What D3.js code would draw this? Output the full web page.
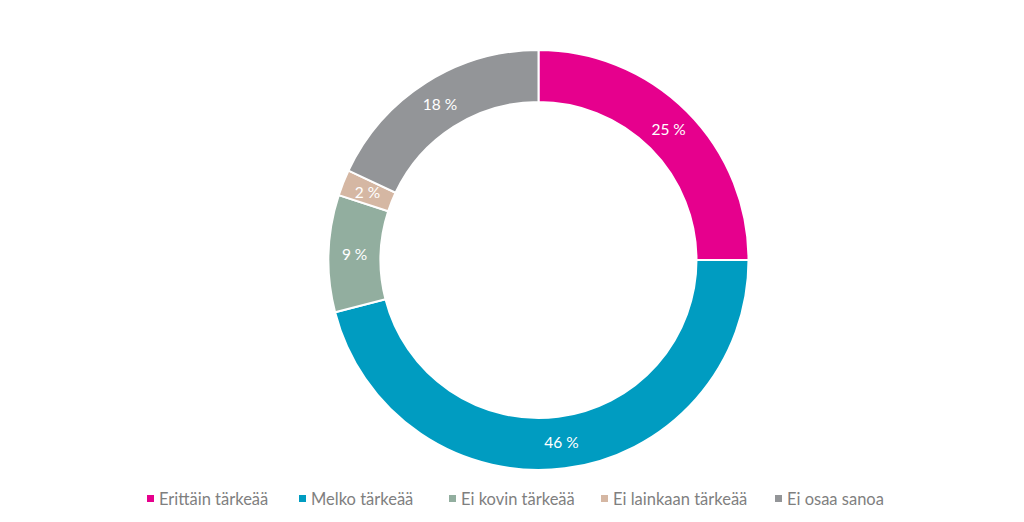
<!DOCTYPE html>
<html>
<head>
<meta charset="utf-8">
<script src="https://cdn.jsdelivr.net/npm/d3@7"></script>
<style>
  body { margin: 0; background: #fff; }
  svg { display: block; font-family: Lato, "Open Sans", sans-serif; }
</style>
</head>
<body>
<svg id="chart" width="1024" height="522"></svg>
<script>
// Data
var categories = ["Erittäin tärkeää", "Melko tärkeää", "Ei kovin tärkeää", "Ei lainkaan tärkeää", "Ei osaa sanoa"];
var values = [25, 46, 9, 2, 18];
var colors = ["#E6008D", "#009CC1", "#92AE9F", "#D5B7A3", "#939598"];

var cx = 538.5, cy = 260, outerR = 210, innerR = 158;

var svg = d3.select("#chart");

var slices = categories.map(function(c, i) { return { name: c, value: values[i], color: colors[i] }; });

var pie = d3.pie().sort(null).value(function(d) { return d.value; });
var arc = d3.arc().innerRadius(innerR).outerRadius(outerR);

var g = svg.append("g").attr("transform", "translate(" + cx + "," + cy + ")");

g.selectAll("path")
  .data(pie(slices))
  .enter()
  .append("path")
    .attr("d", arc)
    .style("fill", function(d) { return d.data.color; })
    .style("stroke", "#fff")
    .style("stroke-width", 2);

g.selectAll("text")
  .data(pie(slices))
  .enter()
  .append("text")
    .attr("transform", function(d) { return "translate(" + arc.centroid(d) + ")"; })
    .attr("text-anchor", "middle")
    .attr("dy", "0.35em")
    .style("font-size", "15.5px")
    .style("fill", "#fff")
    .text(function(d) { return d.data.value + " %"; });

// Legend
var legendX = [147, 299, 449, 601, 775];
var legend = svg.append("g").selectAll("g")
  .data(slices)
  .enter()
  .append("g")
    .attr("transform", function(d, i) { return "translate(" + legendX[i] + ",496)"; });

legend.append("rect")
  .attr("x", 0).attr("y", -1)
  .attr("width", 7).attr("height", 7)
  .style("fill", function(d) { return d.color; });

legend.append("text")
  .attr("x", 12).attr("y", 3)
  .attr("dy", "0.35em")
  .style("font-size", "16.5px")
  .style("fill", "#7f7f7f")
  .text(function(d) { return d.name; });
</script>
</body>
</html>
